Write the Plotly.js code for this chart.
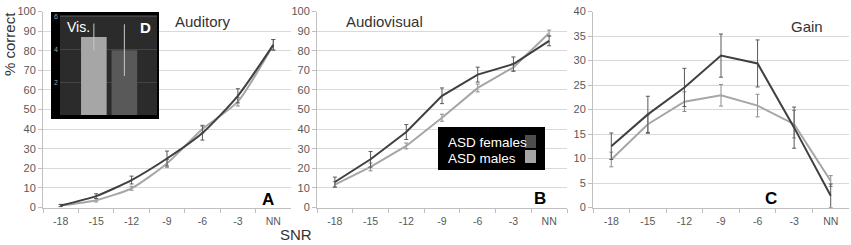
<!DOCTYPE html>
<html>
<head>
<meta charset="utf-8">
<script src="https://cdn.plot.ly/plotly-3.0.1.min.js"></script>
<style>
  html, body { margin: 0; padding: 0; background: #fff; }
  #wrap { position: relative; width: 851px; height: 245px; }
  #main { position: absolute; left: 0; top: 0; width: 851px; height: 245px; }
  #inset { position: absolute; left: 51px; top: 12px; width: 108px; height: 107px; }
</style>
</head>
<body>
<div id="wrap">
  <div id="main"></div>
  <div id="inset"></div>
</div>
<script>
// ---- data ----
const snr = ['-18', '-15', '-12', '-9', '-6', '-3', 'NN'];

const audFemales    = [1.0, 5.8, 14.0, 25.0, 38.0, 57.0, 83.0];
const audFemalesErr = [0.6, 1.2, 2.0, 3.8, 3.6, 3.6, 2.7];
const audMales      = [1.0, 3.7, 9.8, 22.5, 40.0, 54.0, 83.0];
const audMalesErr   = [0.5, 0.9, 1.0, 2.0, 2.0, 2.2, 2.7];

const avFemales     = [13.0, 24.6, 38.5, 57.0, 67.8, 73.2, 85.0];
const avFemalesErr  = [2.5, 4.0, 3.8, 4.0, 3.8, 3.6, 2.5];
const avMales       = [11.7, 20.7, 31.4, 45.8, 61.0, 71.5, 89.0];
const avMalesErr    = [1.5, 2.0, 1.5, 1.8, 2.0, 2.0, 1.5];

const gainFemales    = [12.5, 19.0, 24.5, 31.0, 29.4, 16.3, 2.4];
const gainFemalesErr = [2.7, 3.7, 3.9, 4.4, 4.8, 4.2, 2.4];
const gainMales      = [9.8, 17.0, 21.6, 22.9, 20.8, 17.0, 5.4];
const gainMalesErr   = [1.5, 1.9, 2.0, 2.2, 2.3, 2.8, 1.1];

const visGroups = ['ASD males', 'ASD females'];
const visValues = [4.78, 3.97];
const visErr    = [0.82, 1.58];

// ---- styles ----
const FONT = 'Liberation Sans, Arial, sans-serif';
const darkLine = '#404040';
const lightLine = '#a6a6a6';

function series(x, y, err, color, errColor, xa, ya, shape) {
  return {
    type: 'scatter', mode: 'lines', x: x, y: y,
    xaxis: xa, yaxis: ya,
    line: { color: color, width: 2, shape: shape || 'linear', smoothing: 0.6 },
    error_y: { type: 'data', array: err, visible: true, color: errColor, thickness: 1, width: 2 },
    showlegend: false, hoverinfo: 'skip'
  };
}

const traces = [
  series(snr, audMales, audMalesErr, lightLine, '#8c8c8c', 'x', 'y', 'spline'),
  series(snr, audFemales, audFemalesErr, darkLine, '#595959', 'x', 'y', 'spline'),
  series(snr, avMales, avMalesErr, lightLine, '#8c8c8c', 'x2', 'y2'),
  series(snr, avFemales, avFemalesErr, darkLine, '#595959', 'x2', 'y2'),
  series(snr, gainMales, gainMalesErr, lightLine, '#8c8c8c', 'x3', 'y3'),
  series(snr, gainFemales, gainFemalesErr, darkLine, '#595959', 'x3', 'y3')
];

const W = 851, H = 245;
const yDom = [(H - 207.5) / H, (H - 11.5) / H];

function xAxis(d0, d1, anchor) {
  return {
    type: 'category', domain: [d0 / W, d1 / W], anchor: anchor,
    range: [-0.5, 6.5], tickson: 'boundaries',
    showgrid: false, zeroline: false,
    showline: true, linecolor: '#bfbfbf', linewidth: 1,
    ticks: 'outside', ticklen: 4, tickcolor: '#bfbfbf',
    ticklabelstandoff: 4,
    tickfont: { family: FONT, size: 10.5, color: '#595959' },
    fixedrange: true
  };
}
function yAxis(maxV, dt, anchor) {
  return {
    domain: yDom, anchor: anchor, range: [0, maxV], dtick: dt,
    showgrid: true, gridcolor: '#d9d9d9', gridwidth: 1,
    zeroline: false, showline: true, linecolor: '#bfbfbf', linewidth: 1,
    ticks: 'outside', ticklen: 4, tickcolor: '#bfbfbf',
    tickfont: { family: FONT, size: 11, color: '#595959' },
    fixedrange: true
  };
}

function ann(text, x, y, size, opts) {
  return Object.assign({
    text: text, x: x / W, y: 1 - y / H, xref: 'paper', yref: 'paper',
    showarrow: false, xanchor: 'center', yanchor: 'middle',
    font: { family: FONT, size: size, color: '#333333' }
  }, opts || {});
}

const layout = {
  width: W, height: H,
  margin: { l: 0, r: 0, t: 0, b: 0 },
  paper_bgcolor: '#ffffff', plot_bgcolor: 'rgba(0,0,0,0)',
  font: { family: FONT },
  showlegend: false,
  xaxis: xAxis(43, 291, 'y'),
  yaxis: yAxis(100, 10, 'x'),
  xaxis2: xAxis(317, 567, 'y2'),
  yaxis2: yAxis(100, 10, 'x2'),
  xaxis3: xAxis(593, 849, 'y3'),
  yaxis3: yAxis(40, 5, 'x3'),
  shapes: [
    { type: 'rect', xref: 'paper', yref: 'paper', layer: 'above',
      x0: 438 / W, x1: 545 / W, y0: 1 - 170 / H, y1: 1 - 127 / H,
      fillcolor: '#000000', line: { width: 0 } },
    { type: 'rect', xref: 'paper', yref: 'paper', layer: 'above',
      x0: 525 / W, x1: 536 / W, y0: 1 - 148 / H, y1: 1 - 135 / H,
      fillcolor: '#4d4d4d', line: { width: 0 } },
    { type: 'rect', xref: 'paper', yref: 'paper', layer: 'above',
      x0: 525 / W, x1: 536 / W, y0: 1 - 163 / H, y1: 1 - 150 / H,
      fillcolor: '#a6a6a6', line: { width: 0 } }
  ],
  annotations: [
    ann('Auditory', 203, 22, 15),
    ann('Audiovisual', 384, 22, 15),
    ann('Gain', 807, 27, 15),
    ann('<b>A</b>', 268, 199, 17, { font: { family: FONT, size: 17, color: '#000' } }),
    ann('<b>B</b>', 540, 198, 17, { font: { family: FONT, size: 17, color: '#000' } }),
    ann('<b>C</b>', 771, 198, 17, { font: { family: FONT, size: 17, color: '#000' } }),
    ann('% correct', 10, 44, 15, { textangle: -90 }),
    ann('SNR', 296, 234, 15),
    ann('ASD females', 446, 142, 13.5, { xanchor: 'left', font: { family: FONT, size: 13.5, color: '#ffffff' } }),
    ann('ASD males', 446, 158, 13.5, { xanchor: 'left', font: { family: FONT, size: 13.5, color: '#ffffff' } })
  ]
};

Plotly.newPlot('main', traces, layout, { staticPlot: true });

// ---- inset D ----
const insetTrace = {
  type: 'bar', x: visGroups, y: visValues, width: 0.84,
  marker: { color: ['#a6a6a6', '#595959'], line: { width: 0 } },
  error_y: { type: 'data', array: visErr, visible: true, color: '#c8c8c8', thickness: 1, width: 0 },
  hoverinfo: 'skip'
};
const insetLayout = {
  width: 108, height: 107,
  margin: { l: 9, r: 2, t: 3, b: 4 },
  paper_bgcolor: '#000000', plot_bgcolor: '#2b2b2b',
  showlegend: false,
  xaxis: { type: 'category', range: [-1.11, 2.07], showticklabels: false, showgrid: false,
           zeroline: false, showline: false, ticks: '', fixedrange: true },
  yaxis: { range: [0, 6.12], tickvals: [2, 4, 6], ticktext: ['2', '4', '6'],
           showgrid: true, gridcolor: '#444444', gridwidth: 1, zeroline: false,
           showline: false, ticks: '', ticklabelstandoff: 1,
           tickfont: { family: FONT, size: 7, color: '#a0a0a0' }, fixedrange: true },
  annotations: [
    { text: 'Vis.', xref: 'paper', yref: 'paper', x: 0.05, y: 0.88, xanchor: 'left', yanchor: 'middle',
      showarrow: false, font: { family: FONT, size: 14, color: '#ffffff' } },
    { text: '<b>D</b>', xref: 'paper', yref: 'paper', x: 0.96, y: 0.88, xanchor: 'right', yanchor: 'middle',
      showarrow: false, font: { family: FONT, size: 15, color: '#ffffff' } }
  ]
};
Plotly.newPlot('inset', [insetTrace], insetLayout, { staticPlot: true });
</script>
</body>
</html>
